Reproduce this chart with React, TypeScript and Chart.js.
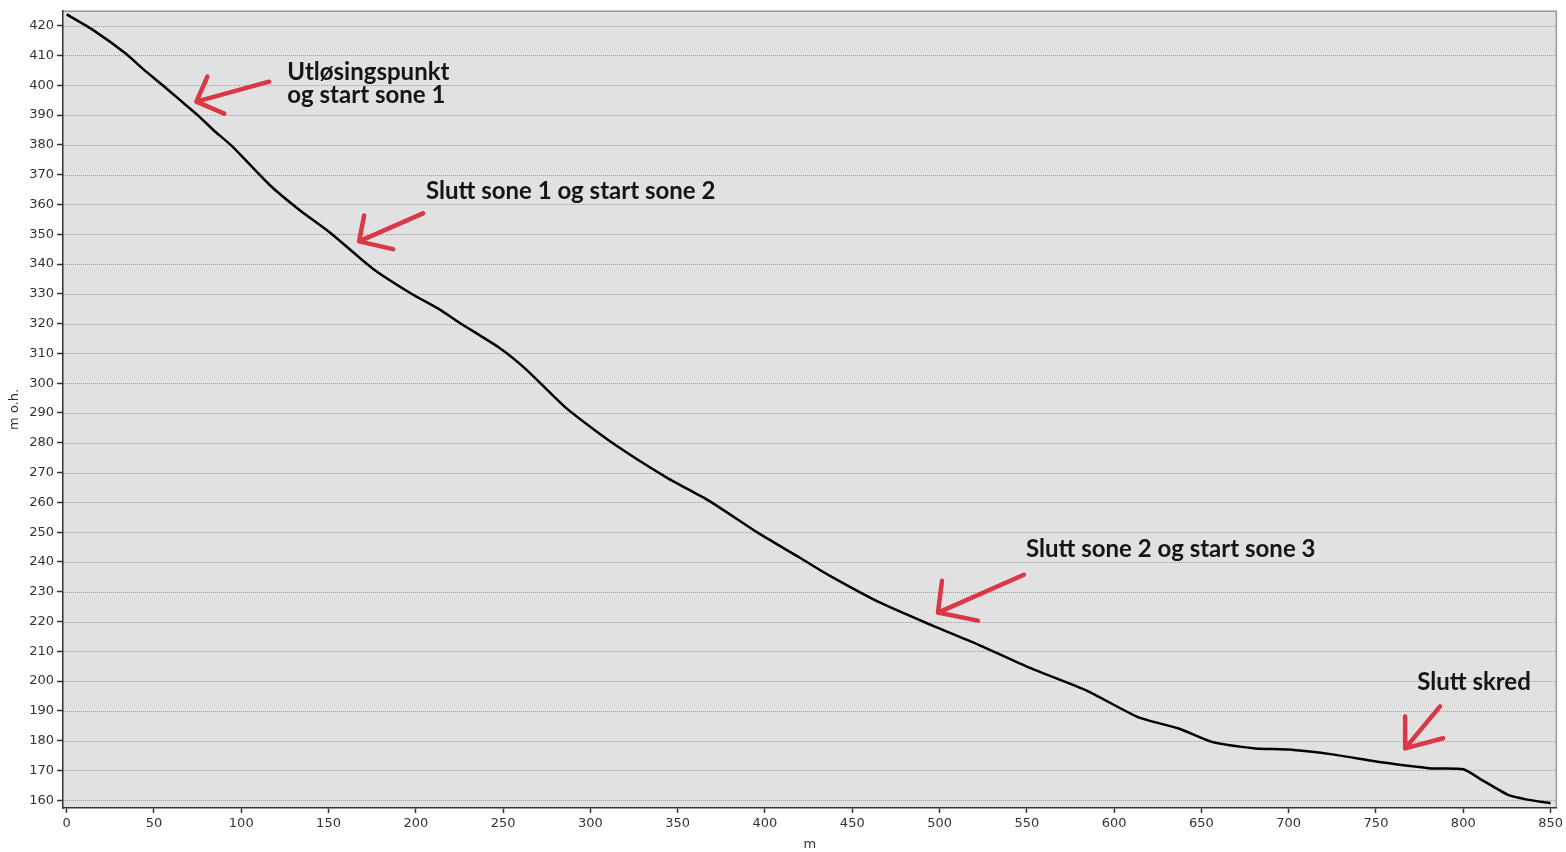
import React, { useEffect, useRef } from "react";
import { Chart, registerables } from "chart.js";

Chart.register(...registerables);

// distance along profile (m)
const DIST = [0, 15, 34, 43.5, 55, 65, 76, 84, 95, 116, 133, 152, 175, 197, 214, 225, 248, 263, 286, 311, 344, 368, 397, 420, 437, 466, 496, 523, 551, 584, 614, 637, 656, 681, 700, 725, 750, 767, 782, 800, 811, 826, 836, 850];
// elevation (m o.h.)
const ELEV = [423.8, 418.6, 410.6, 405.6, 400, 395, 389.5, 385, 379.4, 366.7, 358.3, 350, 338.6, 330.2, 324.6, 320.3, 311.8, 304.7, 291.7, 280.6, 268.2, 260.5, 249.4, 241.4, 235.4, 226.3, 218.6, 212, 204.6, 196.9, 187.8, 184.1, 179.6, 177.4, 177, 175.4, 173, 171.7, 170.7, 170.4, 166.7, 161.7, 160.3, 159];

const X_TICKS = [0, 50, 100, 150, 200, 250, 300, 350, 400, 450, 500, 550, 600, 650, 700, 750, 800, 850];
const Y_TICKS = [160, 170, 180, 190, 200, 210, 220, 230, 240, 250, 260, 270, 280, 290, 300, 310, 320, 330, 340, 350, 360, 370, 380, 390, 400, 410, 420];

// annotation texts (lines) and positions in data coordinates
const NOTE_TEXTS = [
  ["Utløsingspunkt", "og start sone 1"],
  ["Slutt sone 1 og start sone 2"],
  ["Slutt sone 2 og start sone 3"],
  ["Slutt skred"],
];
const NOTE_TEXT_POS = [
  [126.4, 404.2],
  [205.8, 364.4],
  [549.5, 244.4],
  [773.6, 199.5],
];
// arrow: head, tail, barb1, barb2
const ARROW_HEAD = [[74.3, 394.5], [167.5, 347.6], [499.1, 223], [766.7, 177.4]];
const ARROW_TAIL = [[116, 401.2], [204.1, 357], [548.3, 235.7], [786.7, 191.5]];
const ARROW_BARB1 = [[80.6, 402.9], [170.4, 356.3], [501.4, 233.7], [766.7, 188.1]];
const ARROW_BARB2 = [[90.3, 390.5], [187, 345], [522, 220.3], [788.5, 180.8]];

const TICK_FONT = { family: "'DejaVu Sans', 'Liberation Sans', sans-serif", size: 13 };

const bgPlugin = {
  id: "plotBg",
  beforeDraw(chart: any) {
    const { ctx, chartArea, scales } = chart;
    ctx.save();
    ctx.fillStyle = "#ffffff";
    ctx.fillRect(0, 0, chart.width, chart.height);
    ctx.fillStyle = "#e1e1e1";
    ctx.fillRect(chartArea.left, chartArea.top, chartArea.right - chartArea.left, chartArea.bottom - chartArea.top);
    // dotted horizontal grid lines
    ctx.strokeStyle = "#9c9c9c";
    ctx.lineWidth = 1;
    ctx.setLineDash([1, 1]);
    for (const v of Y_TICKS) {
      const y = Math.round(scales.y.getPixelForValue(v)) + 0.5;
      ctx.beginPath();
      ctx.moveTo(chartArea.left, y);
      ctx.lineTo(chartArea.right, y);
      ctx.stroke();
    }
    ctx.setLineDash([]);
    ctx.strokeStyle = "#9a9a9a";
    ctx.lineWidth = 1.5;
    ctx.beginPath();
    ctx.moveTo(chartArea.left, chartArea.top + 0.5);
    ctx.lineTo(chartArea.right - 0.5, chartArea.top + 0.5);
    ctx.lineTo(chartArea.right - 0.5, chartArea.bottom);
    ctx.stroke();
    ctx.restore();
  },
};

const notesPlugin = {
  id: "notes",
  afterDatasetsDraw(chart: any) {
    const { ctx, scales } = chart;
    const px = (p: number[]) => [scales.x.getPixelForValue(p[0]), scales.y.getPixelForValue(p[1])];
    ctx.save();
    ctx.strokeStyle = "rgba(218, 40, 58, 0.92)";
    ctx.lineWidth = 4.5;
    ctx.lineCap = "round";
    ctx.lineJoin = "round";
    for (let i = 0; i < ARROW_HEAD.length; i++) {
      const h = px(ARROW_HEAD[i]);
      const t = px(ARROW_TAIL[i]);
      const b1 = px(ARROW_BARB1[i]);
      const b2 = px(ARROW_BARB2[i]);
      ctx.beginPath();
      ctx.moveTo(t[0], t[1]);
      ctx.lineTo(h[0], h[1]);
      ctx.moveTo(b1[0], b1[1]);
      ctx.lineTo(h[0], h[1]);
      ctx.lineTo(b2[0], b2[1]);
      ctx.stroke();
    }
    ctx.fillStyle = "#151515";
    ctx.font = "bold 24px Lato, 'Open Sans', sans-serif";
    ctx.textAlign = "left";
    ctx.textBaseline = "middle";
    for (let i = 0; i < NOTE_TEXTS.length; i++) {
      const p = px(NOTE_TEXT_POS[i]);
      NOTE_TEXTS[i].forEach((line, j) => {
        ctx.fillText(line, p[0], p[1] + j * 23);
      });
    }
    ctx.restore();
  },
};

export default function App() {
  const ref = useRef<HTMLCanvasElement | null>(null);
  useEffect(() => {
    document.body.style.margin = "0";
    if (!ref.current) return;
    const chart = new Chart(ref.current, {
      type: "line",
      data: {
        datasets: [
          {
            data: DIST.map((d, i) => ({ x: d, y: ELEV[i] })),
            borderColor: "#000000",
            borderWidth: 2.5,
            pointRadius: 0,
            tension: 0.2,
            fill: false,
          },
        ],
      },
      options: {
        animation: false,
        responsive: false,
        maintainAspectRatio: false,
        layout: { padding: { top: 9, right: 6, left: 0, bottom: 0 } },
        plugins: { legend: { display: false }, tooltip: { enabled: false } },
        scales: {
          x: {
            type: "linear",
            min: -2.1,
            max: 853.6,
            afterBuildTicks: (axis: any) => {
              axis.ticks = X_TICKS.map((v) => ({ value: v }));
            },
            afterFit: (axis: any) => {
              axis.height = 44;
            },
            grid: { drawOnChartArea: false, drawTicks: true, tickLength: 5, tickColor: "#333", tickWidth: 1.5 },
            border: { display: true, color: "#333", width: 1.5 },
            ticks: { color: "#333", font: TICK_FONT, padding: 3, maxRotation: 0, autoSkip: false },
            title: { display: true, text: "m", color: "#333", font: TICK_FONT, padding: { top: 0, bottom: 0 } },
          },
          y: {
            type: "linear",
            min: 157.4,
            max: 425,
            afterBuildTicks: (axis: any) => {
              axis.ticks = Y_TICKS.map((v) => ({ value: v }));
            },
            afterFit: (axis: any) => {
              axis.width = 63;
            },
            grid: { drawOnChartArea: false, drawTicks: true, tickLength: 6, tickColor: "#333", tickWidth: 1.5 },
            border: { display: true, color: "#333", width: 1.5 },
            ticks: { color: "#333", font: TICK_FONT, padding: 3, autoSkip: false },
            title: { display: true, text: "m o.h.", color: "#333", font: TICK_FONT, padding: { top: 7, bottom: 0 } },
          },
        },
      } as any,
      plugins: [bgPlugin, notesPlugin],
    });
    return () => chart.destroy();
  }, []);
  return (
    <div style={{ position: "fixed", left: 0, top: 0, width: 1566, height: 852 }}>
      <canvas ref={ref} width={1566} height={852} style={{ display: "block" }} />
    </div>
  );
}
